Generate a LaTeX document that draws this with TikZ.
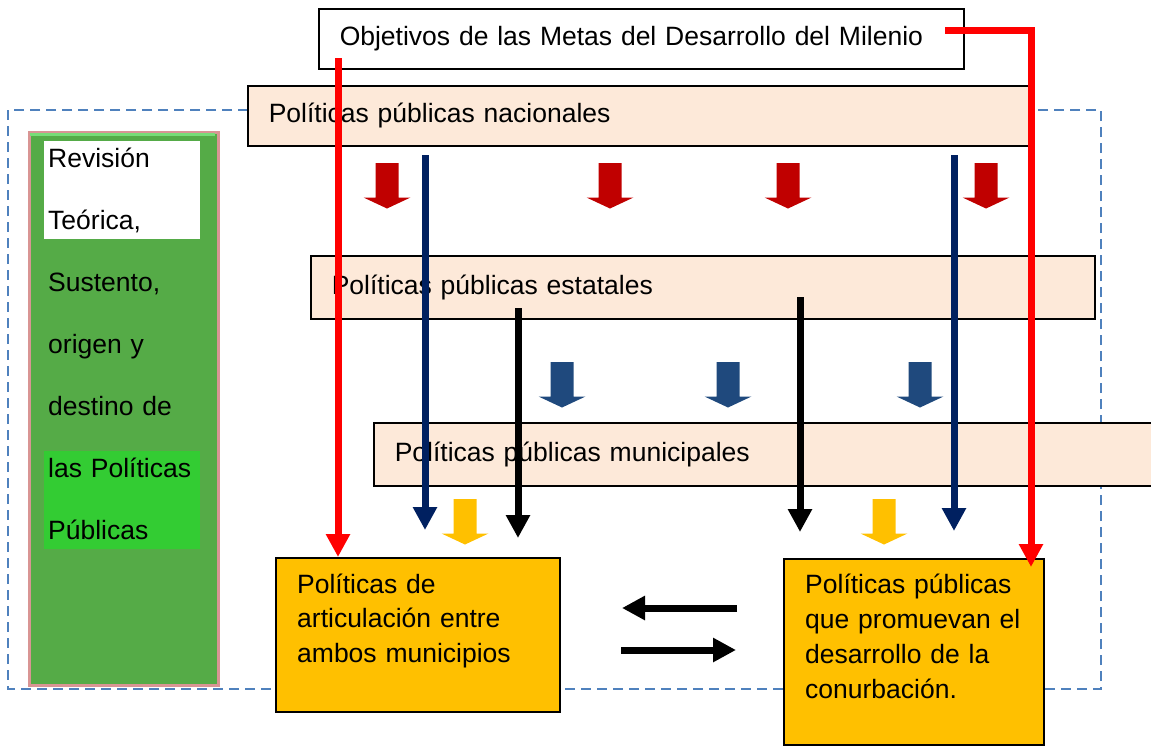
\documentclass[tikz,border=0pt]{standalone}
\usepackage{fontspec}
\setmainfont{Liberation Sans}
\usetikzlibrary{positioning}
\usetikzlibrary{arrows.meta}

\definecolor{rojo}{HTML}{FF0000}
\definecolor{rojoosc}{HTML}{C00000}
\definecolor{marino}{HTML}{002060}
\definecolor{azulflecha}{HTML}{1F497D}
\definecolor{ambar}{HTML}{FFC000}
\definecolor{durazno}{HTML}{FDE9D9}
\definecolor{verde}{HTML}{55AB47}
\definecolor{verdeclaro}{HTML}{77DD77}
\definecolor{verdevivo}{HTML}{33CC33}
\definecolor{rosa}{HTML}{D99594}
\definecolor{azulpunteado}{HTML}{4F81BD}

\begin{document}
\begin{tikzpicture}[x=1pt, y=-1pt,
    caja/.style={draw, line width=1.5pt, anchor=north west, inner xsep=21pt, inner ysep=0pt, align=left, font=\fontsize{26.5}{32}\selectfont},
    cajanaranja/.style={draw, line width=1.5pt, fill=ambar, anchor=north west, inner sep=0pt},
    fondo/.style={anchor=north west, inner sep=0pt},
    texto/.style={anchor=base west, inner sep=0pt, align=left},
    linea/.style={line width=7pt, -{Triangle[length=23pt,width=23pt]}},
    flechabloque/.pic={\fill (-11.5,0) -- (11.5,0) -- (11.5,34.5) -- (23.5,34.5) -- (0,45.5) -- (-23.5,34.5) -- (-11.5,34.5) -- cycle;}]
  \useasboundingbox (0,0) rectangle (1151,745);

  % Marco punteado
  \draw[azulpunteado, line width=2pt, dash pattern=on 10pt off 6pt] (8,110) rectangle (1101,689);

  % Columna verde
  \node[fondo, draw=rosa, line width=3pt, fill=verde, minimum width=189pt, minimum height=553pt] (col) at (28,131) {};
  \fill[verdeclaro] (30,133) rectangle (215,136);
  \node[fondo, fill=white, minimum width=156pt, minimum height=98pt] (blanco) at (44,141) {};
  \node[fondo, fill=verdevivo, minimum width=156pt, minimum height=98pt] (vivo) at (44,451) {};
  \node[texto, text width=160pt, font=\fontsize{26.5}{62}\selectfont] (revision) at (48,167)
    {Revisión\\Teórica,\\Sustento,\\origen y\\destino de\\las Políticas\\Públicas};

  % Nodos
  \node[caja, fill=white, text width=603pt, minimum height=60pt] (obj) at (318,8) {Objetivos de las Metas del Desarrollo del Milenio};
  \node[caja, fill=durazno, text width=739pt, minimum height=60pt] (nac) at (247,85) {Políticas públicas nacionales};
  \node[caja, fill=durazno, text width=742pt, minimum height=63pt] (est) at (310,255) {Políticas públicas estatales};
  \node[caja, fill=durazno, text width=740pt, minimum height=63pt] (mun) at (373,422) {Políticas públicas municipales};

  \node[cajanaranja, minimum width=284pt, minimum height=154pt] (izq) at (275,557) {};
  \node[texto, text width=250pt, font=\fontsize{26.5}{34.5}\selectfont] (tizq) at (297,593)
    {Políticas de\\articulación entre\\ambos municipios};
  \node[cajanaranja, minimum width=260pt, minimum height=186pt] (der) at (783,558) {};
  \node[texto, text width=230pt, font=\fontsize{26.5}{35}\selectfont] (tder) at (805,593)
    {Políticas públicas\\que promuevan el\\desarrollo de la\\conurbación.};

  % Flechas de bloque
  \pic[color=rojoosc] at (387,163) {flechabloque};
  \pic[color=rojoosc] at (610,163) {flechabloque};
  \pic[color=rojoosc] at (788,163) {flechabloque};
  \pic[color=rojoosc] at (986,163) {flechabloque};
  \pic[color=azulflecha] at (562,362) {flechabloque};
  \pic[color=azulflecha] at (728,362) {flechabloque};
  \pic[color=azulflecha] at (920,362) {flechabloque};
  \pic[color=ambar] at (465,499) {flechabloque};
  \pic[color=ambar] at (884,499) {flechabloque};

  % Puntos libres
  \coordinate (r1) at (338,58);
  \coordinate (r2) at (945,30);
  \coordinate (r3) at (1031,567);
  \coordinate (m1) at (425,155);
  \coordinate (m2) at (425,530);
  \coordinate (m3) at (954,155);
  \coordinate (m4) at (954,531);
  \coordinate (n1) at (518,308);
  \coordinate (n2) at (518,538);
  \coordinate (n3) at (800,297);
  \coordinate (n4) at (800,532);
  \coordinate (h1) at (737,608);
  \coordinate (h2) at (622,608);
  \coordinate (h3) at (621,650);
  \coordinate (h4) at (736,650);

  % Conectores
  \draw[linea, rojo] (r1) -- (r1 |- izq.north);
  \draw[linea, rojo, line join=miter] (r2) -| (r3);
  \draw[linea, marino] (m1) -- (m2);
  \draw[linea, marino] (m3) -- (m4);
  \draw[linea, black] (n1) -- (n2);
  \draw[linea, black] (n3) -- (n4);
  \draw[linea, black] (h1) -- (h2);
  \draw[linea, black] (h3) -- (h4);
\end{tikzpicture}
\end{document}
